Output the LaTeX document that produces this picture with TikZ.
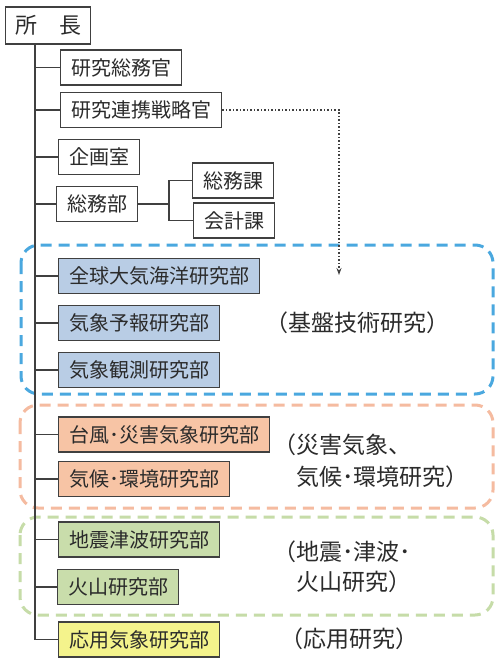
\documentclass[tikz,border=0pt]{standalone}
\usepackage{fontspec}
\setmainfont{Noto Sans CJK JP}
\usetikzlibrary{arrows.meta}
\definecolor{linegray}{HTML}{404040}
\definecolor{txt}{HTML}{2B2B2B}
\definecolor{fillblue}{HTML}{B9CDE5}
\definecolor{fillorange}{HTML}{F7C4A5}
\definecolor{fillgreen}{HTML}{C9DDAB}
\definecolor{fillyellow}{HTML}{F4F38C}
\definecolor{dashblue}{HTML}{4AA8DF}
\definecolor{dashorange}{HTML}{F5BBA0}
\definecolor{dashgreen}{HTML}{C6DCA8}
\tikzset{
  orgbox/.style={draw=linegray, line width=1.3pt, fill=white, text=txt,
    anchor=west, minimum height=35pt, inner xsep=10.5pt, inner ysep=0pt,
    font=\fontsize{20}{24}\selectfont},
  chiefbox/.style={orgbox, minimum height=37pt, inner xsep=9.5pt,
    font=\fontsize{22}{26}\selectfont},
  link/.style={draw=linegray, line width=1.3pt},
  group/.style={line width=3pt, dash pattern=on 11pt off 7pt, rounded corners=18pt},
  lab/.style={anchor=west, inner sep=0pt, text=txt, font=\fontsize{23}{28}\selectfont},
  dotarrow/.style={draw=linegray, line width=1.1pt, dash pattern=on 1.6pt off 1.9pt,
    -{Stealth[length=7pt,width=5pt]}}
}
\begin{document}
\begin{tikzpicture}[x=1pt, y=-1pt]
\useasboundingbox[fill=white] (0,0) rectangle (500,663);

% group frames
\draw[group, draw=dashblue]   (21,245) rectangle (493,394);
\draw[group, draw=dashorange] (20,405) rectangle (493,508);
\draw[group, draw=dashgreen]  (20,517) rectangle (493,615);

% nodes
\node[chiefbox] (chief) at (5,25.5) {所　長};
\node[orgbox] (r1) at (60,67.5) {研究総務官};
\node[orgbox] (r2) at (60,110) {研究連携戦略官};
\node[orgbox] (kikaku) at (58,157) {企画室};
\node[orgbox] (somubu) at (56,204) {総務部};
\node[orgbox] (somuka) at (192,180.5) {総務課};
\node[orgbox] (kaikei) at (193,220.5) {会計課};
\node[orgbox, fill=fillblue] (b1) at (58,276) {全球大気海洋研究部};
\node[orgbox, fill=fillblue] (b2) at (58,323) {気象予報研究部};
\node[orgbox, fill=fillblue] (b3) at (58,370) {気象観測研究部};
\node[orgbox, fill=fillorange] (o1) at (58,434.5) {台風･災害気象研究部};
\node[orgbox, fill=fillorange] (o2) at (58,479) {気候･環境研究部};
\node[orgbox, fill=fillgreen] (g1) at (58,539.5) {地震津波研究部};
\node[orgbox, fill=fillgreen] (g2) at (57,587) {火山研究部};
\node[orgbox, fill=fillyellow] (y1) at (58,639.5) {応用気象研究部};

% labels
\node[lab] (lab1) at (265,323) {（基盤技術研究）};
\node[lab] (lab2a) at (273,445) {（災害気象、};
\node[lab] (lab2b) at (296,477) {気候･環境研究）};
\node[lab] (lab3a) at (273,552) {（地震･津波･};
\node[lab] (lab3b) at (296,582) {火山研究）};
\node[lab] (lab4) at (280,639) {（応用研究）};

% trunk
\coordinate (T) at (35,0);
\draw[link] (T |- chief.south) -- (T |- y1.west);
\foreach \n in {r1,r2,kikaku,somubu,b1,b2,b3,o1,o2,g1,g2,y1}{
  \draw[link] (T |- \n.west) -- (\n.west);
}

% branch of 総務部
\coordinate (B) at (169,0);
\draw[link] (somubu.east) -- (B |- somubu.east);
\draw[link] (somuka.west) -- (B |- somuka.west) -- (B |- kaikei.west) -- (kaikei.west);

% dotted arrow
\coordinate (arrowend) at (339,275);
\draw[dotarrow] (r2.east) -- (r2.east -| arrowend) -- (arrowend);
\end{tikzpicture}
\end{document}
